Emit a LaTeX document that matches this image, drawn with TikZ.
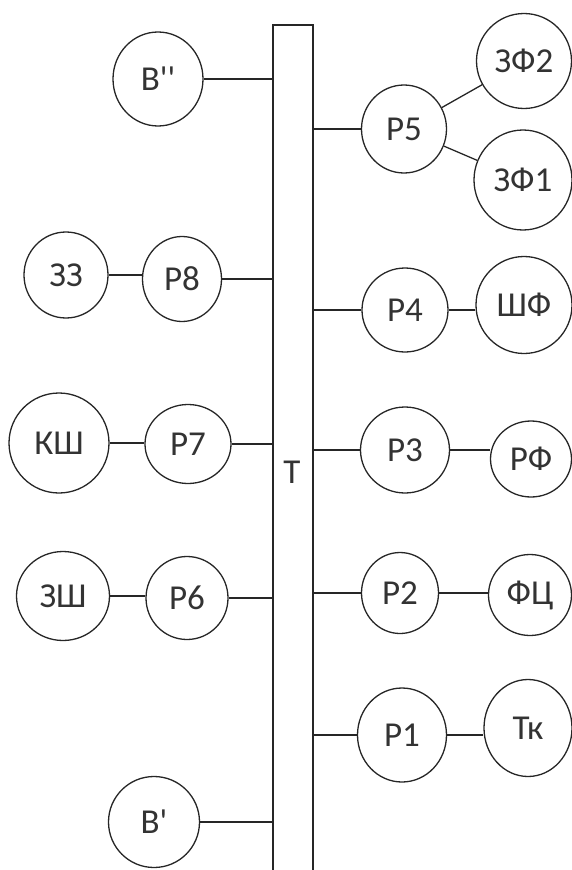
\documentclass[tikz,border=0pt]{standalone}
\usepackage{fontspec}
\setmainfont{Carlito}[Ligatures=TeXOff]
\usetikzlibrary{shapes.geometric}
\begin{document}
\begin{tikzpicture}[x=1pt,y=-1pt,
  line width=1.3pt, draw=black!85,
  bub/.style={draw=black!85, ellipse, inner sep=0pt, font=\fontsize{35}{40}\selectfont, text=black!80},
  lnk/.style={draw=black!85, line width=1.3pt}]
\useasboundingbox (0,0) rectangle (572,870);
% central bar
\coordinate (Tl) at (273,0);
\coordinate (Tr) at (313,0);
\draw[lnk] (273,872) -- (273,25) -- (313,25) -- (313,872);
\node[font=\fontsize{35}{40}\selectfont, text=black!80] (T) at (292,472) {Т};
% nodes
\node[bub, minimum width=90, minimum height=94] (B2) at (158,79) {В''};
\node[bub, minimum width=85, minimum height=88] (P5) at (404,129) {Р5};
\node[bub, minimum width=95, minimum height=95] (ZF2) at (524,61) {ЗФ2};
\node[bub, minimum width=98, minimum height=100] (ZF1) at (523,180) {ЗФ1};
\node[bub, minimum width=84, minimum height=86] (Z33) at (66,275) {ЗЗ};
\node[bub, minimum width=79, minimum height=85] (P8) at (182,279) {Р8};
\node[bub, minimum width=86, minimum height=84] (P4) at (405,310) {Р4};
\node[bub, minimum width=96, minimum height=97] (ShF) at (524,305) {ШФ};
\node[bub, minimum width=100, minimum height=100] (KSh) at (59,443) {КШ};
\node[bub, minimum width=86, minimum height=79] (P7) at (188,444) {Р7};
\node[bub, minimum width=89, minimum height=86] (P3) at (405,450) {Р3};
\node[bub, minimum width=81, minimum height=76] (RF) at (531,459) {РФ};
\node[bub, minimum width=93, minimum height=89] (ZSh) at (63,596) {ЗШ};
\node[bub, minimum width=82, minimum height=83] (P6) at (187,598) {Р6};
\node[bub, minimum width=77, minimum height=81] (P2) at (400,593) {Р2};
\node[bub, minimum width=83, minimum height=81] (FC) at (530,595) {ФЦ};
\node[bub, minimum width=89, minimum height=94] (P1) at (402,735) {Р1};
\node[bub, minimum width=88, minimum height=97] (Tk) at (528,728) {Тк};
\node[bub, minimum width=91, minimum height=91] (B1) at (154,822) {В'};
% connectors to the bar
\draw[lnk] (B2.east) -- (B2.east -| Tl);
\draw[lnk] (P8.east) -- (P8.east -| Tl);
\draw[lnk] (P7.east) -- (P7.east -| Tl);
\draw[lnk] (P6.east) -- (P6.east -| Tl);
\draw[lnk] (B1.east) -- (B1.east -| Tl);
\draw[lnk] (P5.west) -- (P5.west -| Tr);
\draw[lnk] (P4.west) -- (P4.west -| Tr);
\draw[lnk] (P3.west) -- (P3.west -| Tr);
\draw[lnk] (P2.west) -- (P2.west -| Tr);
\draw[lnk] (P1.west) -- (P1.west -| Tr);
% node to node
\draw[lnk] (P5) -- (ZF2);
\draw[lnk] (P5) -- (ZF1);
\draw[lnk] (Z33.east) -- (Z33.east -| P8.west);
\draw[lnk] (P4.east) -- (P4.east -| ShF.west);
\draw[lnk] (KSh.east) -- (KSh.east -| P7.west);
\draw[lnk] (P3.east) -- (P3.east -| RF.west);
\draw[lnk] (ZSh.east) -- (ZSh.east -| P6.west);
\draw[lnk] (P2.east) -- (P2.east -| FC.west);
\draw[lnk] (P1.east) -- (P1.east -| Tk.west);
\end{tikzpicture}
\end{document}
